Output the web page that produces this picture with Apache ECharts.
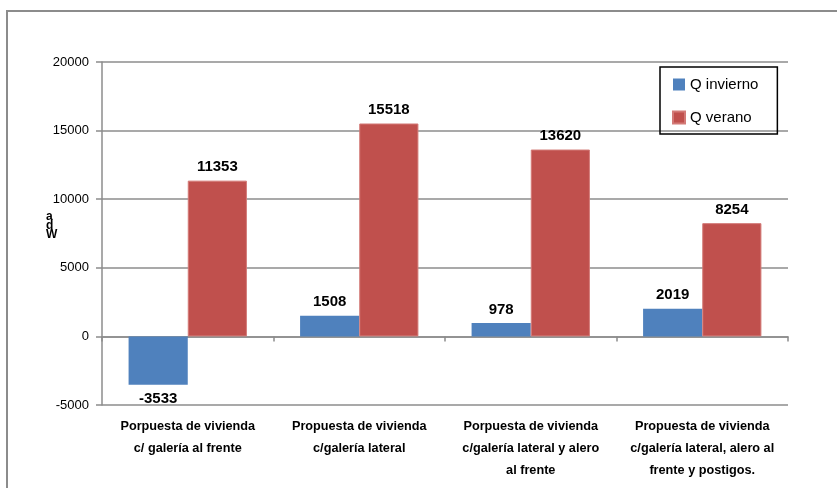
<!DOCTYPE html>
<html>
<head>
<meta charset="utf-8">
<script src="https://cdn.jsdelivr.net/npm/echarts@6/dist/echarts.min.js"></script>
<style>html,body{margin:0;padding:0;background:#fff;}#c{width:837px;height:488px;}</style>
</head>
<body>
<div id="c"></div>
<script>
var categories = [
  'Porpuesta de vivienda\nc/ galería al frente',
  'Propuesta de vivienda\nc/galería lateral',
  'Porpuesta de vivienda\nc/galería lateral y alero\nal frente',
  'Propuesta de vivienda\nc/galería lateral, alero al\nfrente y postigos.'
];
var qInvierno = [-3533, 1508, 978, 2019];
var qVerano = [11353, 15518, 13620, 8254];
var seriesNames = ['Q invierno', 'Q verano'];
var yAxisName = 'a\nd\nW';

var FONT = 'Liberation Sans';
var chart = echarts.init(document.getElementById('c'));
var labelStyle = {show: true, position: 'top', distance: 6, fontFamily: FONT, fontWeight: 'bold', fontSize: 15, color: '#000'};
chart.setOption({
  animation: false,
  graphic: [
    {type: 'rect', shape: {x: 7, y: 11, width: 900, height: 600}, style: {fill: 'none', stroke: '#8c8c8c', lineWidth: 2}, z: -10},
    {type: 'text', left: 46, top: 211, style: {text: yAxisName, font: 'bold 12px ' + FONT, fill: '#000', lineHeight: 9, textAlign: 'left'}}
  ],
  legend: {
    orient: 'vertical', left: 660, top: 67,
    data: seriesNames,
    itemWidth: 12, itemHeight: 12, itemGap: 18,
    padding: [10, 19, 9, 12],
    borderColor: '#000', borderWidth: 1.5,
    icon: 'rect',
    textStyle: {fontFamily: FONT, fontSize: 15, color: '#000'}
  },
  grid: {left: 102, right: 49, top: 62, bottom: 83},
  xAxis: [
    {type: 'category', data: categories, axisLine: {onZero: true, lineStyle: {color: '#8c8c8c', width: 1.5}},
     axisTick: {show: true, length: 5, lineStyle: {color: '#8c8c8c', width: 1.5}}, axisLabel: {show: false}},
    {type: 'category', data: categories, position: 'bottom', axisLine: {show: false}, axisTick: {show: false},
     axisLabel: {margin: 10, fontFamily: FONT, fontWeight: 'bold', fontSize: 12.7, color: '#000', lineHeight: 22, interval: 0}}
  ],
  yAxis: {
    type: 'value', min: -5000, max: 20000, interval: 5000,
    axisLine: {show: true, lineStyle: {color: '#8c8c8c', width: 1.5}},
    axisTick: {show: true, length: 6, lineStyle: {color: '#8c8c8c', width: 1.5}},
    splitLine: {lineStyle: {color: '#8c8c8c', width: 1.5}},
    axisLabel: {margin: 13, fontFamily: FONT, fontSize: 13, color: '#000', formatter: function (v) { return String(v); }}
  },
  series: [
    {name: seriesNames[0], type: 'bar', barGap: '0%', barCategoryGap: '31%', itemStyle: {color: '#4F81BD'},
     data: qInvierno.map(function (v) { return v < 0 ? {value: v, label: {position: 'bottom'}} : v; }),
     label: labelStyle},
    {name: seriesNames[1], type: 'bar', itemStyle: {color: '#C0504D', borderColor: '#D37A77', borderWidth: 1},
     data: qVerano, label: labelStyle}
  ]
});
</script>
</body>
</html>
